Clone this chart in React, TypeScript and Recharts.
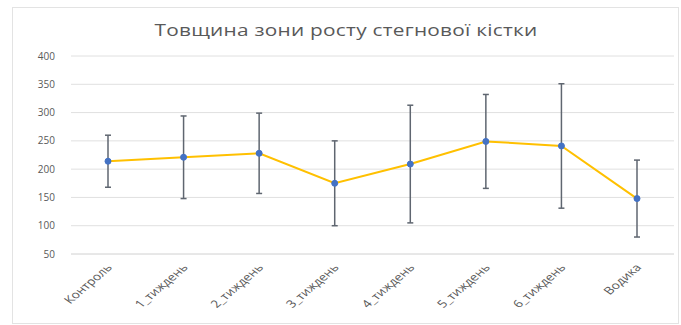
import React from "react";
import { LineChart, Line, XAxis, YAxis, CartesianGrid, ErrorBar } from "recharts";

const categories = ["Контроль", "1_тиждень", "2_тиждень", "3_тиждень", "4_тиждень", "5_тиждень", "6_тиждень", "Водика"];
const values = [214, 221, 228, 175, 209, 249, 241, 148];
const errors = [46, 73, 71, 75, 104, 83, 110, 68];
const yTicks = [50, 100, 150, 200, 250, 300, 350, 400];

const data = categories.map((c, i) => ({ name: c, value: values[i], err: errors[i] }));

const FONT = "'Open Sans', 'Noto Sans', sans-serif";

const XTick = (props: any) => {
  const { x, y, payload } = props;
  return (
    <g transform={`translate(${x + 5},${y + 6}) scale(1.3,1) rotate(-48)`}>
      <text x={0} y={0} textAnchor="end" fontSize={10.5} fill="#595959" fontFamily={FONT}>
        {payload.value}
      </text>
    </g>
  );
};

export default function App() {
  return (
    <div style={{ position: "absolute", left: 0, top: 0, width: 681, height: 325, background: "#fff" }}>
      <div
        style={{
          position: "absolute",
          left: 12,
          top: 7,
          width: 665,
          height: 315,
          border: "1px solid #E3E3E3",
        }}
      />
      <div
        style={{
          position: "absolute",
          left: 346 - 250,
          top: 19,
          width: 500,
          textAlign: "center",
          fontFamily: FONT,
          fontSize: 16,
          color: "#595959",
          letterSpacing: 0.2,
          transform: "scaleX(1.3)",
        }}
      >
        Товщина зони росту стегнової кістки
      </div>
      <div style={{ position: "absolute", left: 0, top: 0 }}>
        <LineChart width={681} height={325} data={data} margin={{ top: 56, right: 7, bottom: 41, left: 0 }}>
          <CartesianGrid vertical={false} stroke="#E0E0E0" />
          <XAxis
            dataKey="name"
            height={30}
            padding={{ left: 37, right: 37 }}
            axisLine={{ stroke: "#E0E0E0" }}
            tickLine={false}
            tick={<XTick />}
            interval={0}
          />
          <YAxis
            width={71}
            domain={[50, 400]}
            ticks={yTicks}
            axisLine={false}
            tickLine={false}
            tickSize={8}
            tickMargin={8}
            tick={{ fontSize: 10, fill: "#595959", fontFamily: FONT }}
          />
          <Line
            type="linear"
            dataKey="value"
            stroke="#FFC000"
            strokeWidth={2}
            dot={{ r: 3, fill: "#4472C4", stroke: "#4472C4", strokeWidth: 1 }}
            isAnimationActive={false}
          >
            <ErrorBar dataKey="err" width={3} stroke="#5F6670" strokeWidth={1.5} direction="y" />
          </Line>
        </LineChart>
      </div>
    </div>
  );
}
